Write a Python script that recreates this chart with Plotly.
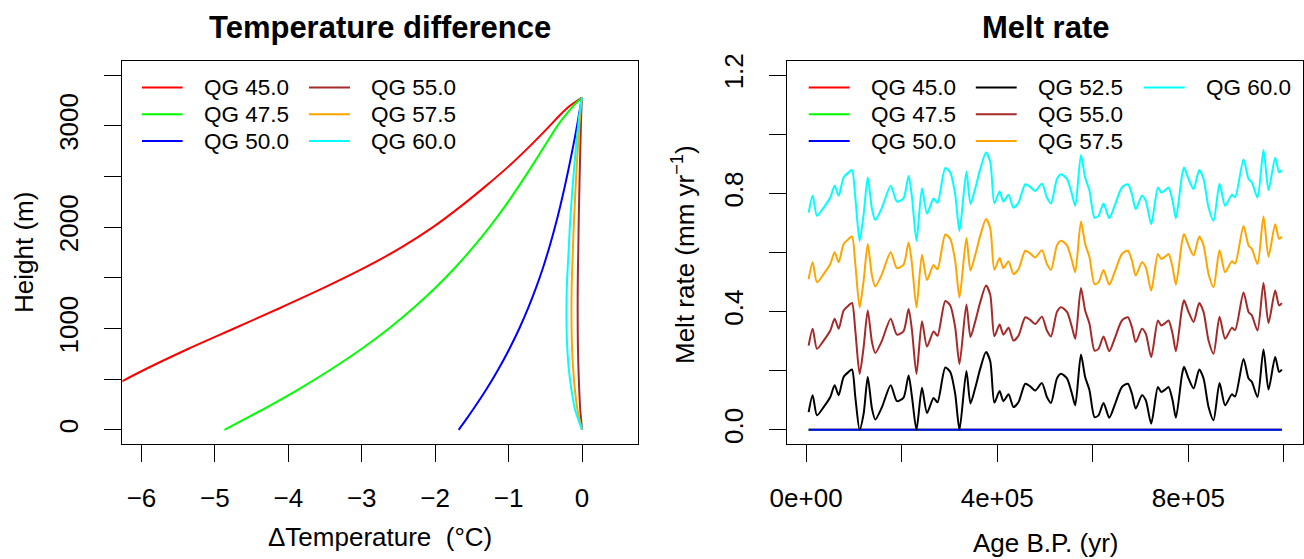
import plotly.graph_objects as go

# ---------------- data: left panel (temperature difference profiles) ----------------
heights_m = [0, 100, 200, 400, 600, 800, 1000, 1200, 1400, 1600, 1800, 2000,
             2200, 2400, 2600, 2800, 3000, 3100, 3200, 3280]
dT_qg45 = [-7.47, -7.22, -6.97, -6.47, -5.94, -5.36, -4.74, -4.12, -3.52, -2.96, -2.46, -2.03,
           -1.66, -1.32, -1.00, -0.71, -0.44, -0.31, -0.16, 0.0]
dT_qg47_5 = [-4.87, -4.61, -4.35, -3.86, -3.41, -3.00, -2.63, -2.30, -2.00, -1.73, -1.485, -1.26,
             -1.055, -0.865, -0.685, -0.51, -0.335, -0.23, -0.115, 0.0]
dT_qg50 = [-1.68, -1.58, -1.484, -1.302, -1.137, -0.988, -0.854, -0.734, -0.627, -0.531, -0.446, -0.369,
           -0.299, -0.235, -0.176, -0.120, -0.068, -0.044, -0.020, 0.0]
dT_qg55 = [0.0, -0.012, -0.024, -0.038, -0.048, -0.055, -0.058, -0.059, -0.058, -0.055, -0.050, -0.046,
           -0.041, -0.035, -0.029, -0.022, -0.015, -0.011, -0.006, 0.0]
dT_qg57_5 = [0.0, -0.032, -0.062, -0.097, -0.120, -0.135, -0.142, -0.144, -0.141, -0.133, -0.123, -0.113,
             -0.100, -0.087, -0.072, -0.055, -0.036, -0.026, -0.014, 0.0]
dT_qg60 = [0.0, -0.050, -0.095, -0.145, -0.180, -0.200, -0.210, -0.212, -0.207, -0.195, -0.180, -0.166,
           -0.148, -0.128, -0.105, -0.080, -0.053, -0.038, -0.020, 0.0]

# ---------------- data: right panel (melt rate time series) ----------------
age_yr = [5300, 13700, 22700, 36700, 50600, 59700, 68100, 78500, 89000, 96000,
          103000, 112000, 120400, 129000, 137800, 144800, 158800, 177000, 190000, 204000,
          214500, 221600, 231000, 242500, 253000, 266800, 275000, 291300, 301700, 312000,
          321000, 335500, 344000, 354000, 364500, 376500, 385400, 394000, 405000, 413000,
          423700, 434000, 444700, 458700, 469000, 479600, 493600, 504000, 512500, 525000,
          533400, 546000, 556400, 563300, 575200, 584000, 593000, 603700, 612000, 622500,
          634500, 647000, 661000, 673500, 682000, 690000, 703000, 711000, 722300, 736300,
          743300, 751600, 758600, 767000, 774000, 786600, 791000, 800400, 811000, 822800,
          831800, 842300, 852700, 865300, 877000, 891000, 898000, 915500, 926000, 933000,
          944800, 957300, 967800, 981800, 990000, 995800]
melt_qg52_5 = [0.060, 0.117, 0.049, 0.077, 0.111, 0.151, 0.117, 0.179, 0.196, 0.204,
               0.111, 0.000, 0.055, 0.179, 0.072, 0.035, 0.077, 0.151, 0.097, 0.109,
               0.184, 0.111, 0.000, 0.142, 0.057, 0.108, 0.093, 0.211, 0.196, 0.122,
               0.000, 0.199, 0.089, 0.142, 0.207, 0.263, 0.232, 0.092, 0.131, 0.097,
               0.120, 0.077, 0.094, 0.156, 0.147, 0.133, 0.158, 0.111, 0.091, 0.174,
               0.190, 0.174, 0.122, 0.083, 0.255, 0.179, 0.135, 0.043, 0.049, 0.091,
               0.041, 0.089, 0.145, 0.156, 0.122, 0.072, 0.117, 0.100, 0.021, 0.145,
               0.128, 0.136, 0.145, 0.100, 0.041, 0.185, 0.213, 0.174, 0.140, 0.204,
               0.174, 0.077, 0.032, 0.158, 0.083, 0.120, 0.113, 0.240, 0.174, 0.162,
               0.111, 0.272, 0.136, 0.246, 0.196, 0.204]
melt_qg55 = [0.285, 0.342, 0.274, 0.302, 0.336, 0.376, 0.342, 0.404, 0.421, 0.429,
             0.336, 0.189, 0.280, 0.404, 0.297, 0.260, 0.302, 0.376, 0.322, 0.334,
             0.409, 0.336, 0.189, 0.367, 0.282, 0.333, 0.318, 0.436, 0.421, 0.347,
             0.223, 0.424, 0.314, 0.367, 0.432, 0.488, 0.457, 0.317, 0.356, 0.322,
             0.345, 0.302, 0.319, 0.381, 0.372, 0.358, 0.383, 0.336, 0.316, 0.399,
             0.415, 0.399, 0.347, 0.308, 0.480, 0.404, 0.360, 0.268, 0.274, 0.316,
             0.266, 0.314, 0.370, 0.381, 0.347, 0.297, 0.342, 0.325, 0.246, 0.370,
             0.353, 0.361, 0.370, 0.325, 0.266, 0.410, 0.438, 0.399, 0.365, 0.429,
             0.399, 0.302, 0.257, 0.383, 0.308, 0.345, 0.338, 0.465, 0.399, 0.387,
             0.336, 0.497, 0.361, 0.471, 0.421, 0.429]
melt_qg57_5 = [0.510, 0.567, 0.499, 0.527, 0.561, 0.601, 0.567, 0.629, 0.646, 0.654,
               0.561, 0.414, 0.505, 0.629, 0.522, 0.485, 0.527, 0.601, 0.547, 0.559,
               0.634, 0.561, 0.414, 0.592, 0.507, 0.558, 0.543, 0.661, 0.646, 0.572,
               0.448, 0.649, 0.539, 0.592, 0.657, 0.713, 0.682, 0.542, 0.581, 0.547,
               0.570, 0.527, 0.544, 0.606, 0.597, 0.583, 0.608, 0.561, 0.541, 0.624,
               0.640, 0.624, 0.572, 0.533, 0.705, 0.629, 0.585, 0.493, 0.499, 0.541,
               0.491, 0.539, 0.595, 0.606, 0.572, 0.522, 0.567, 0.550, 0.471, 0.595,
               0.578, 0.586, 0.595, 0.550, 0.491, 0.635, 0.663, 0.624, 0.590, 0.654,
               0.624, 0.527, 0.482, 0.608, 0.533, 0.570, 0.563, 0.690, 0.624, 0.612,
               0.561, 0.722, 0.586, 0.696, 0.646, 0.654]
melt_qg60 = [0.735, 0.792, 0.724, 0.752, 0.786, 0.826, 0.792, 0.854, 0.871, 0.879,
             0.786, 0.639, 0.730, 0.854, 0.747, 0.710, 0.752, 0.826, 0.772, 0.784,
             0.859, 0.786, 0.639, 0.817, 0.732, 0.783, 0.768, 0.886, 0.871, 0.797,
             0.673, 0.874, 0.764, 0.817, 0.882, 0.938, 0.907, 0.767, 0.806, 0.772,
             0.795, 0.752, 0.769, 0.831, 0.822, 0.808, 0.833, 0.786, 0.766, 0.849,
             0.865, 0.849, 0.797, 0.758, 0.930, 0.854, 0.810, 0.718, 0.724, 0.766,
             0.716, 0.764, 0.820, 0.831, 0.797, 0.747, 0.792, 0.775, 0.696, 0.820,
             0.803, 0.811, 0.820, 0.775, 0.716, 0.860, 0.888, 0.849, 0.815, 0.879,
             0.849, 0.752, 0.707, 0.833, 0.758, 0.795, 0.788, 0.915, 0.849, 0.837,
             0.786, 0.947, 0.811, 0.921, 0.871, 0.879]
age_flat_yr = [5300, 995800]
melt_qg45 = [0.0, 0.0]
melt_qg47_5 = [0.0, 0.0]
melt_qg50 = [0.0, 0.0]

# ticks (labelled majors + unlabelled intermediate ticks, as R drops crowded labels)
left_xticks = [-6, -5, -4, -3, -2, -1, 0]
left_xlabels = ["\u22126", "\u22125", "\u22124", "\u22123", "\u22122", "\u22121", "0"]
left_yticks = [0, 1000, 2000, 3000]
left_ylabels = ["0", "1000", "2000", "3000"]
left_yticks_unlabelled = [500, 1500, 2500, 3500]
right_xticks = [0, 400000, 800000]
right_xlabels = ["0e+00", "4e+05", "8e+05"]
right_xticks_unlabelled = [200000, 600000, 1000000]
right_yticks = [0, 0.4, 0.8, 1.2]
right_ylabels = ["0.0", "0.4", "0.8", "1.2"]
right_yticks_unlabelled = [0.2, 0.6, 1.0]

# ---------------- figure ----------------
W, H = 1304, 559
FONT = "Liberation Sans, Arial, Helvetica, sans-serif"
def PX(x):
    return x / W
def PY(y):
    return 1 - y / H

C = dict(red="#FF0000", green="#00FF00", blue="#0000FF", black="#000000",
         brown="#A52A2A", orange="#FFA500", cyan="#00FFFF")
LW = 2

fig = go.Figure()
left_series = [(dT_qg45, "red"), (dT_qg47_5, "green"), (dT_qg50, "blue"),
               (dT_qg55, "brown"), (dT_qg57_5, "orange"), (dT_qg60, "cyan")]
for vals, col in left_series:
    fig.add_trace(go.Scatter(x=vals, y=heights_m, mode="lines", xaxis="x", yaxis="y",
                             line=dict(color=C[col], width=LW, shape="spline", smoothing=0.8),
                             showlegend=False, hoverinfo="skip"))

right_series = [(age_flat_yr, melt_qg45, "red"), (age_flat_yr, melt_qg47_5, "green"),
                (age_flat_yr, melt_qg50, "blue"), (age_yr, melt_qg52_5, "black"),
                (age_yr, melt_qg55, "brown"), (age_yr, melt_qg57_5, "orange"),
                (age_yr, melt_qg60, "cyan")]
for xs, ys, col in right_series:
    fig.add_trace(go.Scatter(x=xs, y=ys, mode="lines", xaxis="x2", yaxis="y2",
                             line=dict(color=C[col], width=LW, shape="spline", smoothing=0.7),
                             showlegend=False, hoverinfo="skip"))

common = dict(showline=True, linecolor="black", linewidth=1, mirror=True,
              showgrid=False, zeroline=False, ticks="outside", ticklen=17,
              tickwidth=1, tickcolor="black", tickmode="array", automargin=False,
              tickfont=dict(family=FONT, size=26, color="black"))
def minor(vals):
    return dict(tickmode="array", tickvals=vals, ticks="outside", ticklen=17,
                tickwidth=1, tickcolor="black", showgrid=False)

fig.update_layout(
    width=W, height=H, margin=dict(l=0, r=0, t=0, b=0, autoexpand=False),
    paper_bgcolor="white", plot_bgcolor="white", showlegend=False,
    font=dict(family=FONT, color="black"),
    xaxis=dict(domain=[PX(122.4), PX(637.8)], range=[-6.26, 0.76], anchor="y",
               tickvals=left_xticks, ticktext=left_xlabels, ticklabelstandoff=14, **common),
    yaxis=dict(domain=[PY(444), PY(61)], range=[-140, 3640], anchor="x",
               tickvals=left_yticks, ticktext=left_ylabels, tickangle=-90,
               ticklabelstandoff=16, minor=minor(left_yticks_unlabelled), **common),
    xaxis2=dict(domain=[PX(787), PX(1303)], range=[-40000, 1040000], anchor="y2",
                tickvals=right_xticks, ticktext=right_xlabels, ticklabelstandoff=14,
                minor=minor(right_xticks_unlabelled), **common),
    yaxis2=dict(domain=[PY(444), PY(61)], range=[-0.048, 1.248], anchor="x2",
                tickvals=right_yticks, ticktext=right_ylabels, tickangle=-90,
                ticklabelstandoff=16, minor=minor(right_yticks_unlabelled), **common),
)

ann = []
def text(x, y, s, size=26, angle=0, xanchor="center"):
    ann.append(dict(x=PX(x), y=PY(y), xref="paper", yref="paper", text=s, showarrow=False,
                    xanchor=xanchor, yanchor="middle", textangle=angle,
                    font=dict(family=FONT, size=size, color="black")))

# titles & axis titles
text(380, 28, "<b>Temperature difference</b>", size=31)
text(1045, 28, "<b>Melt rate</b>", size=31)
text(380, 537, "\u0394Temperature\u00a0 (\u00b0C)")
text(1045, 543, "Age B.P. (yr)")
text(24, 253, "Height (m)", angle=-90)
text(683, 255, "Melt rate (mm yr<sup>\u22121</sup>)", angle=-90)

# legends (drawn manually, R style)
shapes = []
rows = [87.5, 114.3, 141.0]
left_leg = [[("QG 45.0", "red"), ("QG 47.5", "green"), ("QG 50.0", "blue")],
            [("QG 55.0", "brown"), ("QG 57.5", "orange"), ("QG 60.0", "cyan")]]
left_cols = [(142, 182.6, 202), (309, 350, 369)]
right_leg = [[("QG 45.0", "red"), ("QG 47.5", "green"), ("QG 50.0", "blue")],
             [("QG 52.5", "black"), ("QG 55.0", "brown"), ("QG 57.5", "orange")],
             [("QG 60.0", "cyan")]]
right_cols = [(808.7, 849.7, 869.3), (975.8, 1016.7, 1036.4), (1144, 1184.7, 1203.5)]
for leg, cols in [(left_leg, left_cols), (right_leg, right_cols)]:
    for entries, (x0, x1, xt) in zip(leg, cols):
        for (lab, col), yy in zip(entries, rows):
            shapes.append(dict(type="line", xref="paper", yref="paper",
                               x0=PX(x0), x1=PX(x1), y0=PY(yy), y1=PY(yy),
                               line=dict(color=C[col], width=LW)))
            text(xt, yy, lab, size=22.5, xanchor="left")

fig.update_layout(annotations=ann, shapes=shapes)
fig.write_html("out.html")
